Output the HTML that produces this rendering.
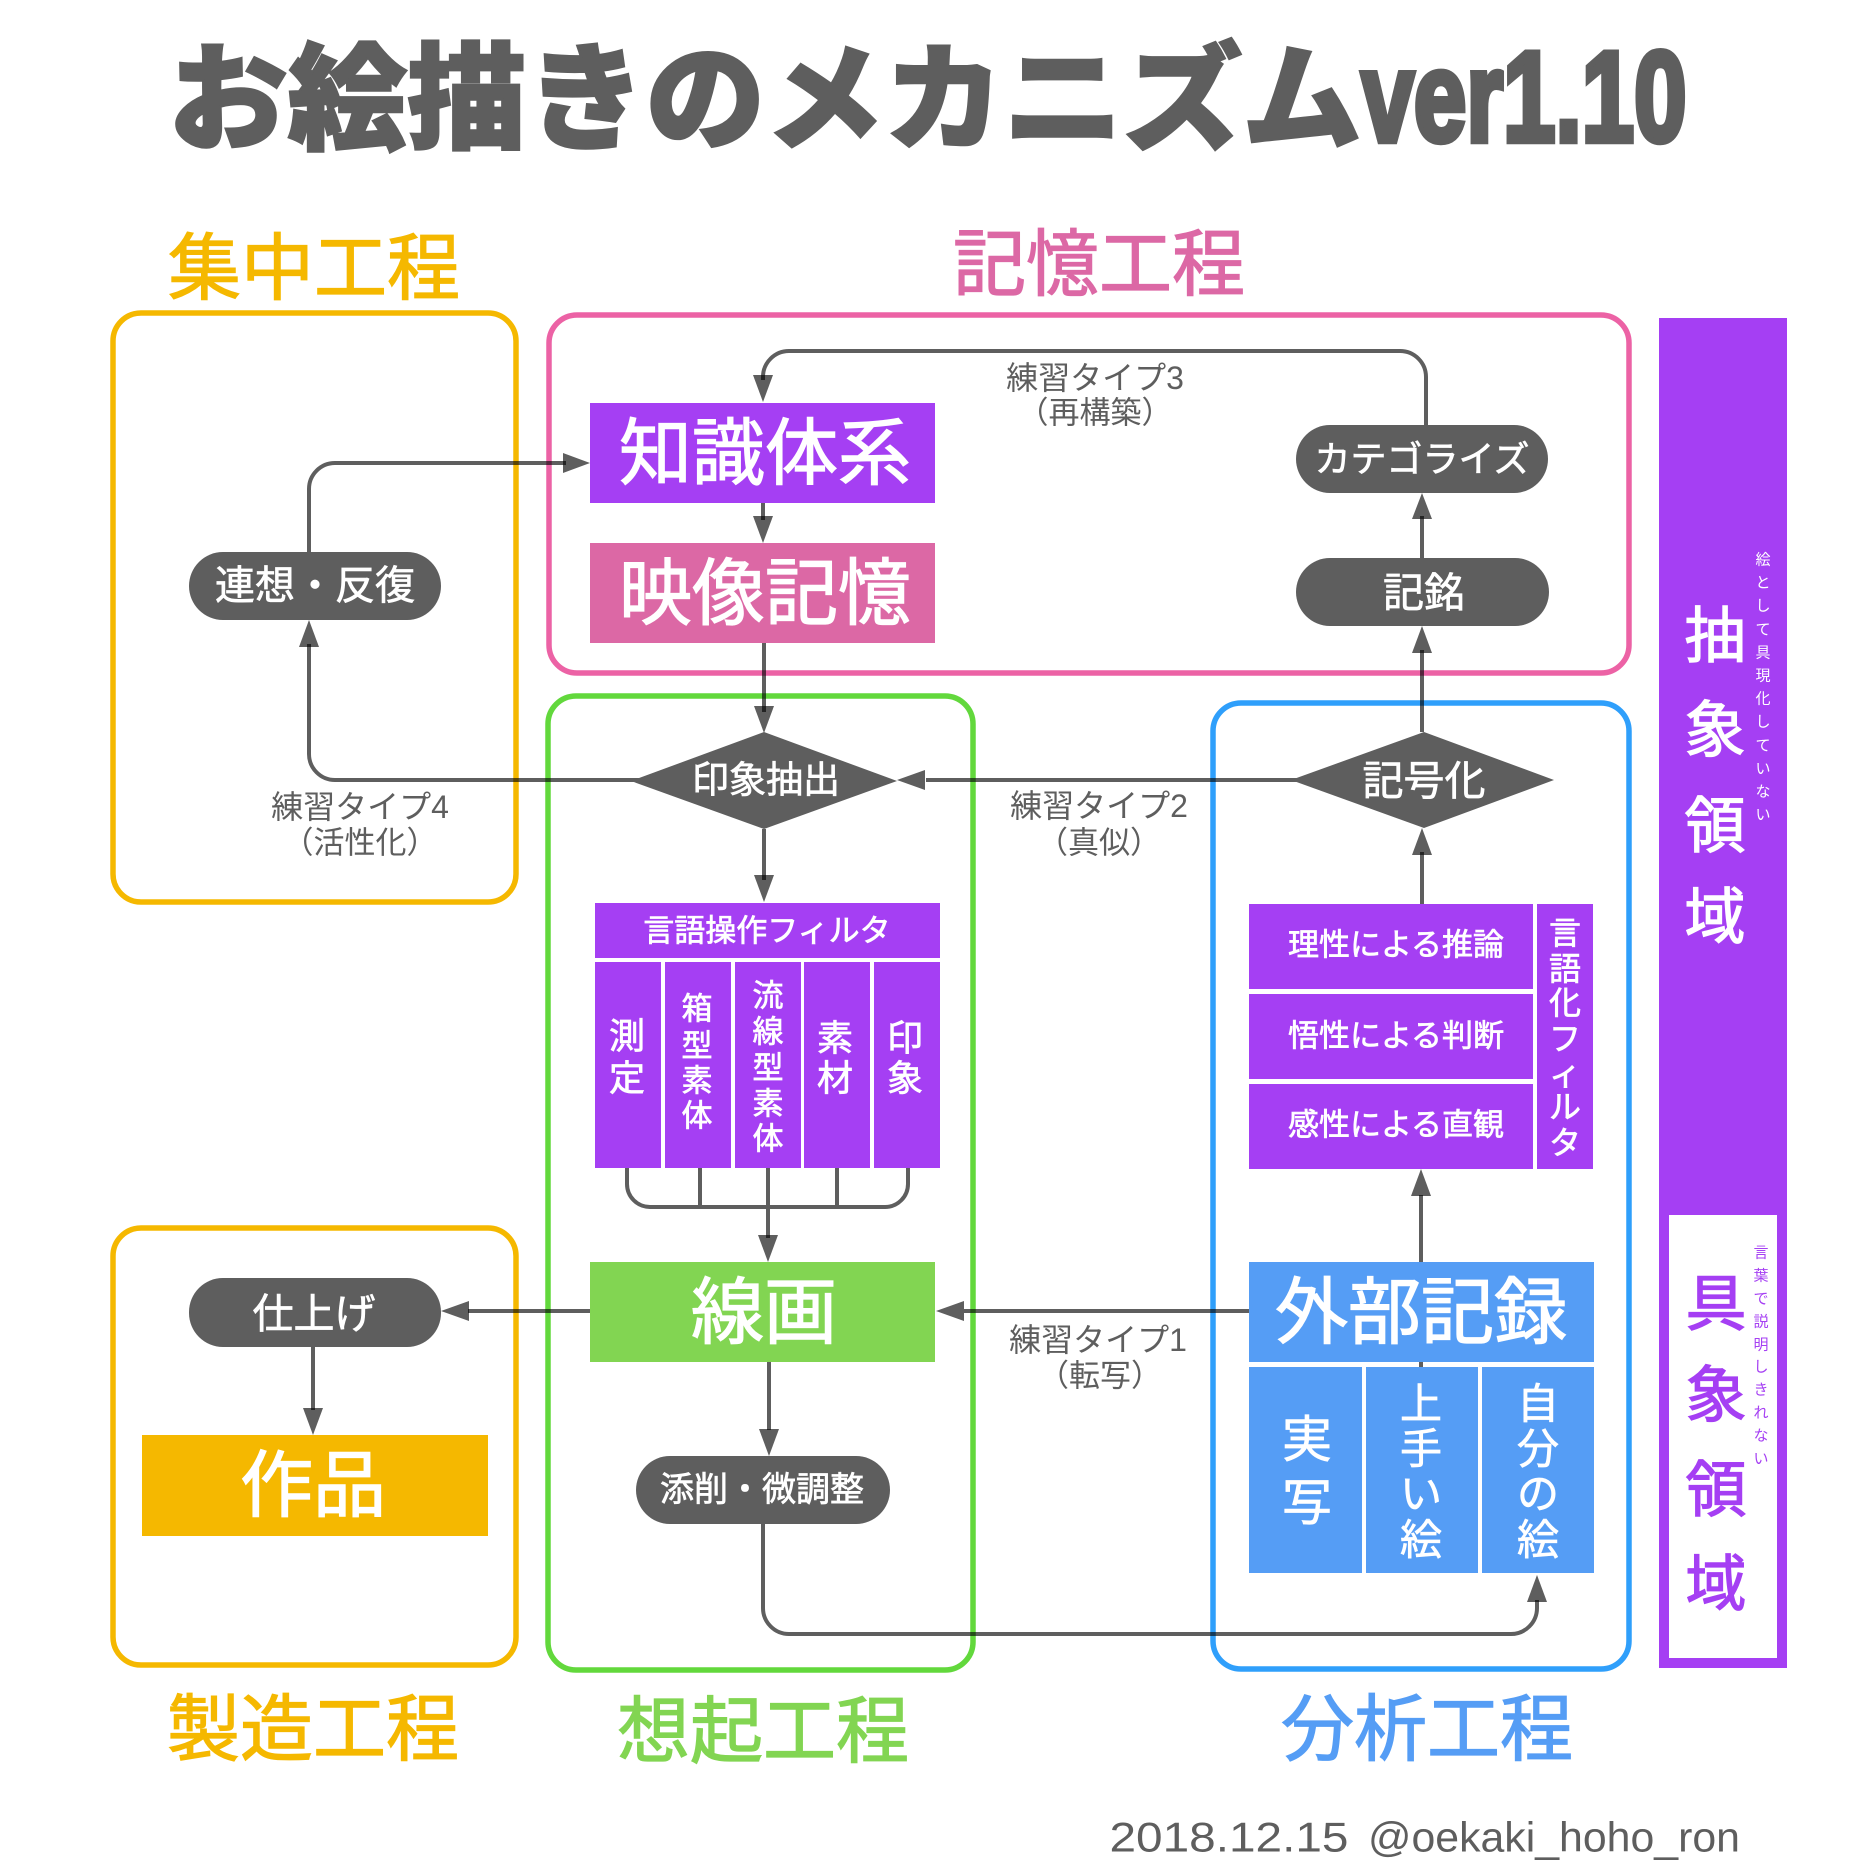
<!DOCTYPE html>
<html lang="ja"><head><meta charset="utf-8"><title>お絵描きのメカニズム</title>
<style>
html,body{margin:0;padding:0;background:#fff}
svg{display:block}
text{font-family:"Liberation Sans","Noto Sans CJK JP",sans-serif;text-anchor:middle;dominant-baseline:central;transform:translate(0,1px)}
.w{fill:#fff;stroke:#fff;stroke-width:.7px}
.W{fill:#fff;stroke:#fff;stroke-width:1.2px}
.g{fill:#5e5e5e}
.f{fill:none;stroke-width:5.5}
.l{fill:none;stroke:#5e5e5e;stroke-width:4;mix-blend-mode:multiply}
.h{fill:#5e5e5e;mix-blend-mode:multiply}
.p{fill:#a53ff3}.b{fill:#559df5}
</style></head><body>
<svg width="1875" height="1875" viewBox="0 0 1875 1875" xmlns="http://www.w3.org/2000/svg">
<rect width="1875" height="1875" fill="#fff"/>
<text x="765" y="99" font-size="116" font-weight="900" fill="#5e5e5e" stroke="#5e5e5e" stroke-width="2.5" textLength="1193" lengthAdjust="spacingAndGlyphs">お絵描きのメカニズム</text>
<text x="1524" y="140" font-size="128" font-weight="700" fill="#5e5e5e" stroke="#5e5e5e" stroke-width="6.5" textLength="325" lengthAdjust="spacingAndGlyphs" style="dominant-baseline:alphabetic">ver1.10</text>

<text x="314" y="268" font-size="73" fill="#f5b800" stroke="#f5b800" stroke-width="1.2">集中工程</text>
<text x="1099" y="264" font-size="73" fill="#dc68a5" stroke="#dc68a5" stroke-width="1.2">記憶工程</text>
<text x="313" y="1729" font-size="73" fill="#f5b800" stroke="#f5b800" stroke-width="1.2">製造工程</text>
<text x="763" y="1731" font-size="73" fill="#82d552" stroke="#82d552" stroke-width="1.2">想起工程</text>
<text x="1427" y="1729" font-size="73" fill="#559df5" stroke="#559df5" stroke-width="1.2">分析工程</text>

<rect class="f" x="113" y="313" width="403" height="589" rx="28" stroke="#f5b800"/>
<rect class="f" x="113" y="1228" width="403" height="437" rx="28" stroke="#f5b800"/>
<rect class="f" x="549" y="315" width="1080" height="358" rx="28" stroke="#ec62a5"/>
<rect class="f" x="548" y="696" width="425" height="974" rx="28" stroke="#62d83c"/>
<rect class="f" x="1213" y="703" width="416" height="966" rx="28" stroke="#2f9ffb"/>

<rect x="1659" y="318" width="128" height="1350" fill="#a53ff3"/>
<rect x="1669" y="1215" width="108" height="443" fill="#fff"/>

<rect class="p" x="590" y="403" width="345" height="100"/>
<rect x="590" y="543" width="345" height="100" fill="#dc68a5"/>
<rect class="p" x="595" y="903" width="345" height="55"/>
<rect class="p" x="595" y="962" width="66" height="206"/>
<rect class="p" x="665" y="962" width="66" height="206"/>
<rect class="p" x="735" y="962" width="66" height="206"/>
<rect class="p" x="804" y="962" width="66" height="206"/>
<rect class="p" x="874" y="962" width="66" height="206"/>
<rect x="590" y="1262" width="345" height="100" fill="#82d552"/>
<rect x="142" y="1435" width="346" height="101" fill="#f5b800"/>
<rect class="p" x="1249" y="904" width="284" height="85"/>
<rect class="p" x="1249" y="994" width="284" height="85"/>
<rect class="p" x="1249" y="1084" width="284" height="85"/>
<rect class="p" x="1537" y="904" width="56" height="265"/>
<rect class="b" x="1249" y="1262" width="345" height="100"/>
<rect class="b" x="1249" y="1367" width="113" height="206"/>
<rect class="b" x="1366" y="1367" width="112" height="206"/>
<rect class="b" x="1482" y="1367" width="112" height="206"/>

<!-- connectors -->
<path class="l" d="M1426 425V377a26 26 0 0 0-26-26H789a26 26 0 0 0-26 26V380"/>
<path class="h" d="M763 402l-10-27h20z"/>
<path class="l" d="M309 552V489a26 26 0 0 1 26-26H566"/>
<path class="h" d="M590 463l-27-10v20z"/>
<path class="l" d="M763 503V520"/><path class="h" d="M763 543l-10-27h20z"/>
<path class="l" d="M764 643V712"/><path class="h" d="M764 733l-10-27h20z"/>
<path class="l" d="M764 829V880"/><path class="h" d="M764 902l-10-27h20z"/>
<path class="l" d="M640 780H335a26 26 0 0 1-26-26V644"/><path class="h" d="M309 620l-10 27h20z"/>
<path class="l" d="M1300 780H926"/><path class="h" d="M897 780l28-10v20z"/>
<path class="l" d="M1422 732V650"/><path class="h" d="M1422 626l-10 27h20z"/>
<path class="l" d="M1422 558V516"/><path class="h" d="M1422 493l-10 26h20z"/>
<path class="l" d="M1422 904V852"/><path class="h" d="M1422 828l-10 27h20z"/>
<path class="l" d="M1421 1262V1195"/><path class="h" d="M1421 1169l-10 27h20z"/>
<path class="l" d="M1421 1362V1367"/>
<path class="l" d="M1249 1311H964"/><path class="h" d="M936 1311l28-10v20z"/>
<path class="l" d="M590 1311H468"/><path class="h" d="M441 1311l28-10v20z"/>
<path class="l" d="M313 1347V1410"/><path class="h" d="M313 1435l-10-27h20z"/>
<path class="l" d="M769 1362V1430"/><path class="h" d="M769 1456l-10-27h20z"/>
<path class="l" d="M763 1524V1608a26 26 0 0 0 26 26H1511a26 26 0 0 0 26-26V1600"/><path class="h" d="M1537 1575l-10 27h20z"/>
<path class="l" d="M627 1168V1184a23 23 0 0 0 23 23H885a23 23 0 0 0 23-23V1168M700 1168V1207M768 1168V1238M837 1168V1207"/>
<path class="h" d="M768 1262l-10-27h20z"/>

<!-- nodes -->
<rect class="g" x="189" y="552" width="252" height="68" rx="34"/>
<rect class="g" x="1296" y="425" width="252" height="68" rx="34"/>
<rect class="g" x="1296" y="558" width="253" height="68" rx="34"/>
<rect class="g" x="189" y="1278" width="252" height="69" rx="34"/>
<rect class="g" x="636" y="1456" width="254" height="68" rx="34"/>
<path class="g" d="M764 732L897 781L764 829L631 781z"/>
<path class="g" d="M1424 732L1554 780L1424 828L1291 780z"/>

<!-- labels -->
<text class="W" x="765" y="453" font-size="73">知識体系</text>
<text class="W" x="765" y="593" font-size="73">映像記憶</text>
<text class="w" x="315" y="585" font-size="40">連想・反復</text>
<text class="w" x="1422" y="458" font-size="36">カテゴライズ</text>
<text class="w" x="1424" y="592" font-size="41">記銘</text>
<text class="w" x="1424" y="780" font-size="41">記号化</text>
<text class="w" x="766" y="779" font-size="37">印象抽出</text>
<text class="g" x="1095" y="377" font-size="32">練習タイプ3</text>
<text class="g" x="1095" y="412" font-size="31">（再構築）</text>
<text class="g" x="1099" y="805" font-size="32">練習タイプ2</text>
<text class="g" x="1099" y="842" font-size="31">（真似）</text>
<text class="g" x="360" y="806" font-size="32">練習タイプ4</text>
<text class="g" x="360" y="842" font-size="31">（活性化）</text>
<text class="g" x="1098" y="1339" font-size="32">練習タイプ1</text>
<text class="g" x="1100" y="1375" font-size="31">（転写）</text>
<text class="w" x="767" y="930" font-size="31">言語操作フィルタ</text>

<g font-size="36">
<text class="w" x="627" y="1035">測</text><text class="w" x="627" y="1077">定</text>
<text class="w" x="835" y="1037">素</text><text class="w" x="835" y="1077">材</text>
<text class="w" x="905" y="1037">印</text><text class="w" x="905" y="1077">象</text>
</g>
<g font-size="31">
<text class="w" x="697" y="1008">箱</text><text class="w" x="697" y="1045">型</text><text class="w" x="697" y="1080">素</text><text class="w" x="697" y="1115">体</text>
<text class="w" x="768" y="995">流</text><text class="w" x="768" y="1031">線</text><text class="w" x="768" y="1067">型</text><text class="w" x="768" y="1103">素</text><text class="w" x="768" y="1138">体</text>
</g>
<text class="w" x="1396" y="944" font-size="31">理性による推論</text>
<text class="w" x="1396" y="1035" font-size="31">悟性による判断</text>
<text class="w" x="1396" y="1124" font-size="31">感性による直観</text>
<g font-size="32">
<text class="w" x="1565" y="932">言</text><text class="w" x="1565" y="968">語</text><text class="w" x="1565" y="1002">化</text><text class="w" x="1565" y="1038">フ</text><text class="w" x="1565" y="1073">ィ</text><text class="w" x="1565" y="1106">ル</text><text class="w" x="1565" y="1142">タ</text>
</g>
<text class="W" x="764" y="1312" font-size="73">線画</text>
<text class="W" x="313" y="1485" font-size="73">作品</text>
<text class="W" x="1421" y="1312" font-size="73">外部記録</text>
<text class="w" x="314" y="1313" font-size="41">仕上げ</text>
<text class="w" x="762" y="1489" font-size="34">添削・微調整</text>
<g font-size="50">
<text class="w" x="1307" y="1439">実</text><text class="w" x="1307" y="1502">写</text>
</g>
<g font-size="42">
<text class="w" x="1421" y="1403">上</text><text class="w" x="1421" y="1448">手</text><text class="w" x="1421" y="1493">い</text><text class="w" x="1421" y="1539">絵</text>
<text class="w" x="1538" y="1403">自</text><text class="w" x="1538" y="1448">分</text><text class="w" x="1538" y="1493">の</text><text class="w" x="1538" y="1539">絵</text>
</g>
<g font-size="61">
<text class="W" x="1715" y="635">抽</text><text class="W" x="1715" y="729">象</text><text class="W" x="1715" y="825">領</text><text class="W" x="1715" y="916">域</text>
<g fill="#a53ff3" stroke="#a53ff3" stroke-width="1.2">
<text x="1716" y="1303">具</text><text x="1716" y="1394">象</text><text x="1716" y="1489">領</text><text x="1716" y="1583">域</text>
</g></g>
<g font-size="15" fill="#fff">
<text x="1763" y="559">絵</text><text x="1763" y="582">と</text><text x="1763" y="605">し</text><text x="1763" y="629">て</text><text x="1763" y="652">具</text><text x="1763" y="675">現</text><text x="1763" y="698">化</text><text x="1763" y="721">し</text><text x="1763" y="745">て</text><text x="1763" y="768">い</text><text x="1763" y="791">な</text><text x="1763" y="814">い</text>
</g>
<g font-size="15" fill="#a53ff3">
<text x="1761" y="1252">言</text><text x="1761" y="1275">葉</text><text x="1761" y="1298">で</text><text x="1761" y="1321">説</text><text x="1761" y="1344">明</text><text x="1761" y="1366">し</text><text x="1761" y="1389">き</text><text x="1761" y="1412">れ</text><text x="1761" y="1435">な</text><text x="1761" y="1458">い</text>
</g>
<text class="g" x="1229" y="1836" font-size="42" textLength="239" lengthAdjust="spacingAndGlyphs">2018.12.15</text>
<text class="g" x="1554" y="1836" font-size="42" textLength="372" lengthAdjust="spacingAndGlyphs">@oekaki_hoho_ron</text>
</svg>
</body></html>
